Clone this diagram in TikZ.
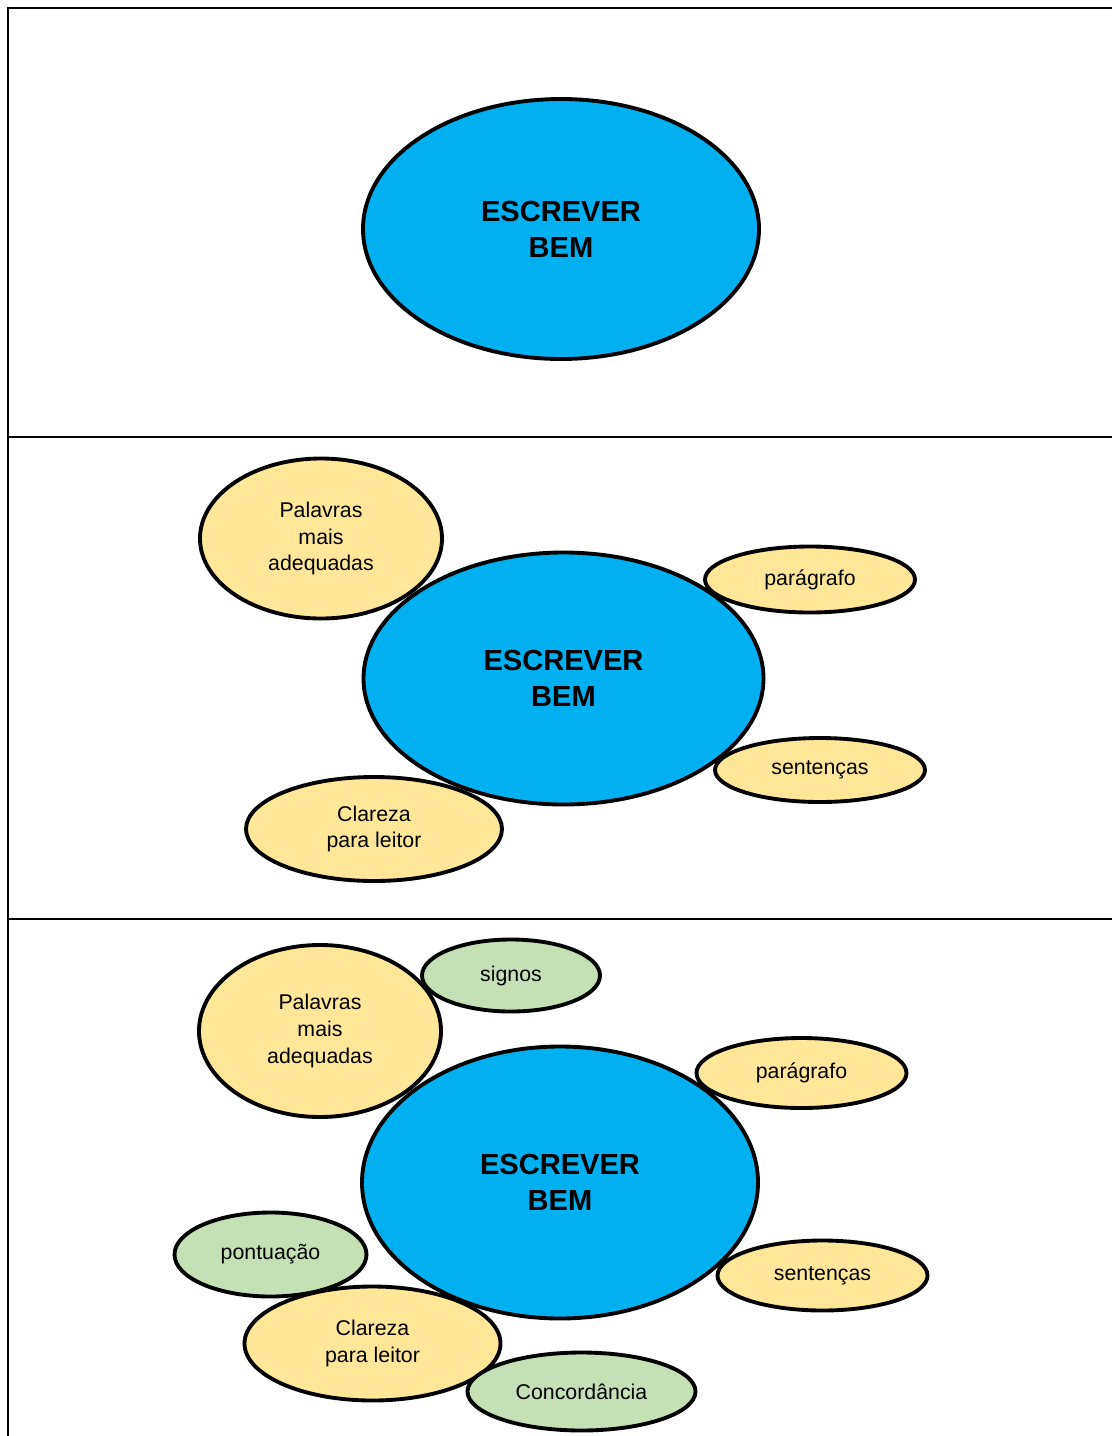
\documentclass[tikz,border=0pt]{standalone}
\usepackage{fontspec}
\setmainfont{Liberation Sans}
\usetikzlibrary{shapes.geometric}
\definecolor{ideablue}{HTML}{00B0F0}
\definecolor{topicyellow}{HTML}{FFE699}
\definecolor{detailgreen}{HTML}{C5E0B4}

\begin{document}
\begin{tikzpicture}[x=0.75pt, y=-0.75pt,
    bubble/.style={ellipse, draw, line width=2.9pt, inner sep=0pt, outer sep=0pt, align=center},
    radii/.style 2 args={minimum width=1.5pt*#1, minimum height=1.5pt*#2},
    idea/.style={bubble, fill=ideablue, font=\fontsize{21.8}{27}\selectfont\bfseries},
    topic/.style={bubble, fill=topicyellow, font=\fontsize{16}{20}\selectfont},
    detail/.style={bubble, fill=detailgreen, font=\fontsize{16}{20}\selectfont}]
    \useasboundingbox (0,0) rectangle (1112,1436);

    % Frame and panel dividers
    \draw[line width=1.5pt] (8,1436) -- (8,8) -- (1112,8);
    \draw[line width=1.5pt] (8,437) -- (1112,437);
    \draw[line width=1.5pt] (8,919) -- (1112,919);

    % Panel 1: central idea only
    \node[idea, radii={198}{130}] (idea1) at (561,229) {ESCREVER\\BEM};

    % Panel 2: central idea with first topics
    \node[idea, radii={200}{126}] (idea2) at (563.5,678.5) {ESCREVER\\BEM};
    \node[topic, radii={121}{80}] (words2) at (321,538.5) {Palavras\\mais\\adequadas};
    \node[topic, radii={105}{33}] (par2) at (810,579.5) {parágrafo};
    \node[topic, radii={105}{32}] (sent2) at (820,770) {sentenças};
    \node[topic, radii={128}{52}] (clar2) at (374,829) {Clareza\\para leitor};

    % Panel 3: topics plus details
    \node[idea, radii={198}{136}] (idea3) at (560,1182.5) {ESCREVER\\BEM};
    \node[topic, radii={121}{86}] (words3) at (320,1031) {Palavras\\mais\\adequadas};
    \node[detail, radii={89}{36}] (signs3) at (511,975.5) {signos};
    \node[topic, radii={105}{35}] (par3) at (801.5,1073) {parágrafo};
    \node[topic, radii={105}{35}] (sent3) at (822.5,1275.5) {sentenças};
    \node[detail, radii={96}{42}] (punct3) at (270.5,1254.5) {pontuação};
    \node[topic, radii={128}{57}] (clar3) at (372.5,1343.5) {Clareza\\para leitor};
    \node[detail, radii={114}{39}] (agree3) at (581.5,1391.5) {Concordância};
\end{tikzpicture}
\end{document}
